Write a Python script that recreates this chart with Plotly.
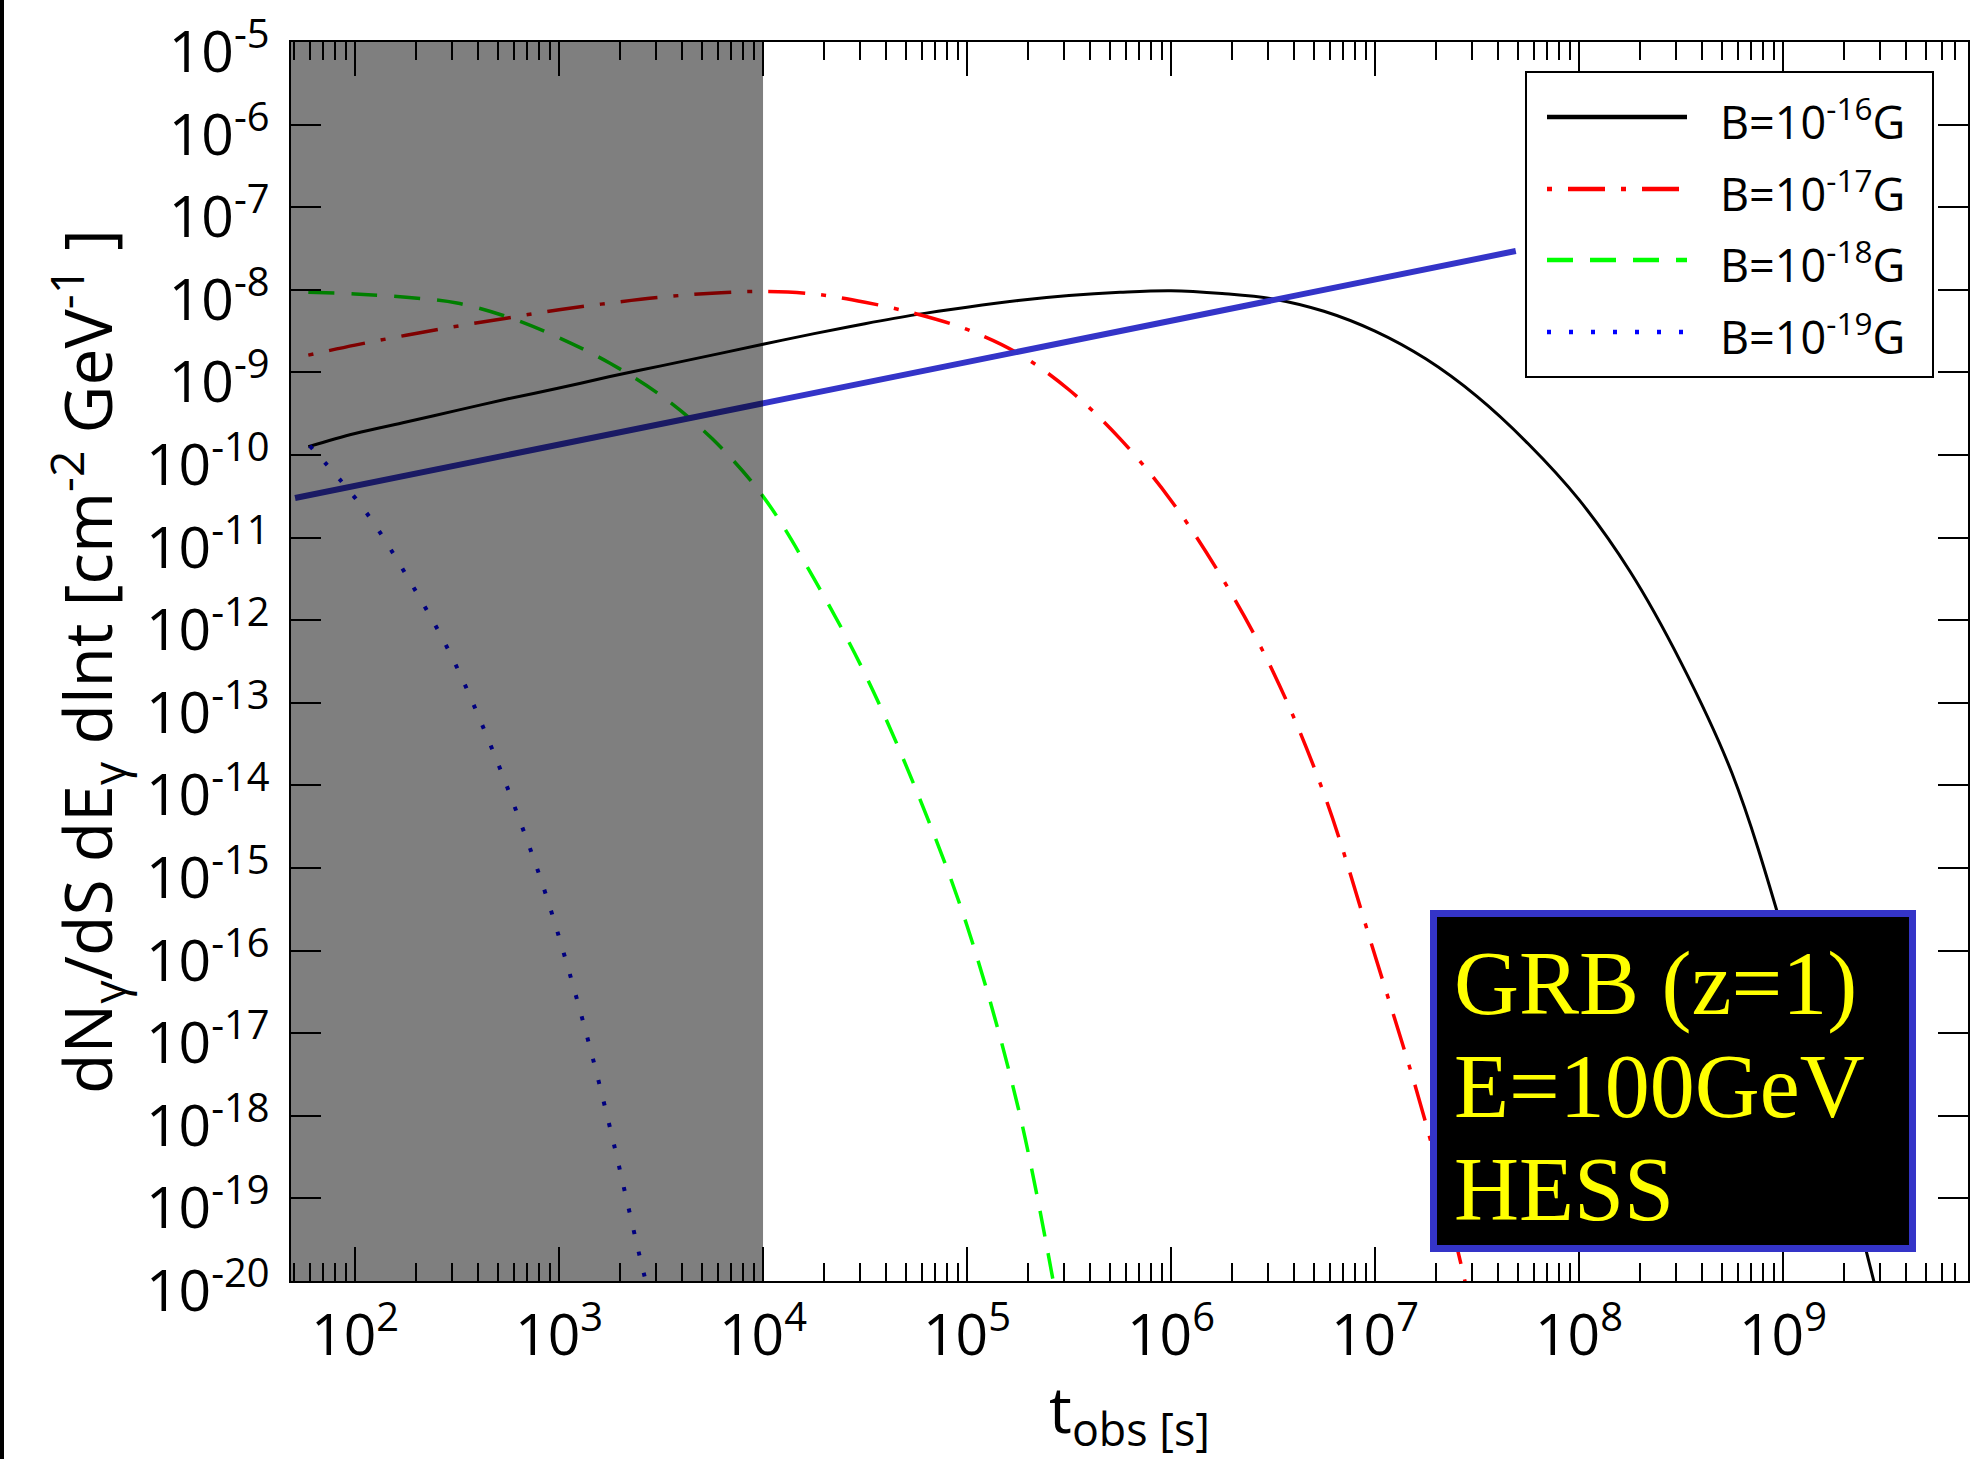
import plotly.graph_objects as go

# ---------------- data ----------------
# B = 1e-16 G  (solid black)
t_b16 = [59, 100, 178, 316, 562, 1000, 1778, 3162, 5623, 1e4, 1.78e4, 3.16e4, 5.62e4,
         1e5, 1.78e5, 3.16e5, 5.62e5, 1e6, 1.78e6, 3.16e6, 5.62e6, 1e7, 1.78e7, 3.16e7,
         5.62e7, 1e8, 1.78e8, 3.16e8, 5.62e8, 1e9, 1.78e9, 2.82e9]
f_b16 = [1.26e-10, 1.82e-10, 2.51e-10, 3.47e-10, 4.79e-10, 6.46e-10, 8.91e-10, 1.20e-9,
         1.62e-9, 2.19e-9, 2.95e-9, 3.89e-9, 5.01e-9, 6.17e-9, 7.41e-9, 8.51e-9, 9.33e-9,
         9.77e-9, 9.02e-9, 7.76e-9, 5.50e-9, 3.16e-9, 1.45e-9, 5.13e-10, 1.38e-10,
         2.88e-11, 3.89e-12, 3.09e-13, 1.41e-14, 1.70e-16, 7.94e-19, 8.91e-21]

# B = 1e-17 G  (red dash-dot)
t_b17 = [59, 100, 178, 316, 562, 1000, 1778, 3162, 5623, 1e4, 1.78e4, 3.16e4, 5.62e4,
         1e5, 1.78e5, 3.16e5, 5.62e5, 1e6, 1.78e6, 3.16e6, 5.62e6, 1e7, 1.78e7, 2.82e7]
f_b17 = [1.62e-9, 2.14e-9, 2.82e-9, 3.63e-9, 4.57e-9, 5.75e-9, 6.92e-9, 8.13e-9,
         9.12e-9, 9.55e-9, 8.91e-9, 7.08e-9, 5.13e-9, 3.31e-9, 1.70e-9, 6.17e-10,
         1.58e-10, 2.82e-11, 3.24e-12, 2.40e-13, 7.94e-15, 8.71e-17, 7.94e-19, 7.94e-21]

# B = 1e-18 G  (green dashed)
t_b18 = [59, 100, 178, 316, 562, 1000, 1778, 3162, 5623, 1e4, 1.78e4, 3.16e4,
         5.62e4, 1e5, 1.78e5, 2.69e5]
f_b18 = [9.33e-9, 8.91e-9, 8.13e-9, 6.92e-9, 4.68e-9, 2.63e-9, 1.29e-9, 5.25e-10,
         1.58e-10, 3.16e-11, 3.16e-12, 2.24e-13, 8.91e-15, 2.0e-16, 1.26e-18, 7.94e-21]

# B = 1e-19 G  (blue dotted)
t_b19 = [60, 110, 186, 295, 437, 617, 851, 1122, 1445, 1820, 2138, 2512, 2692]
f_b19 = [1.29e-10, 2.24e-11, 2.95e-12, 3.80e-13, 4.27e-14, 4.90e-15, 5.25e-16,
         5.50e-17, 5.62e-18, 5.62e-19, 1.0e-19, 1.78e-20, 8.9e-21]

# HESS sensitivity line
t_hess = [50.8, 4.9e7]
f_hess = [3.02e-11, 2.95e-8]

# excluded (shaded) time window
shade_t = [48.5, 1e4]

series_names = ["B=10<sup>-16</sup>G", "B=10<sup>-17</sup>G",
                "B=10<sup>-18</sup>G", "B=10<sup>-19</sup>G"]
x_tick_exp = [2, 3, 4, 5, 6, 7, 8, 9]
y_tick_exp = [-5, -6, -7, -8, -9, -10, -11, -12, -13, -14, -15, -16, -17, -18, -19, -20]
box_lines = ["GRB (z=1)", "E=100GeV", "HESS"]

# ---------------- styles ----------------
FONT = "Open Sans"
styles = [
    dict(color="#000000", width=3, dash="solid"),
    dict(color="#ff0000", width=3.5, dash="5px,16px,37px,16px"),
    dict(color="#00ff00", width=3.5, dash="26px,17px"),
    dict(color="#0000ff", width=4, dash="4px,18px"),
]
HESS_BLUE = "#3434c8"

fig = go.Figure()
for (tx, fy), st, nm in zip([(t_b16, f_b16), (t_b17, f_b17), (t_b18, f_b18), (t_b19, f_b19)],
                            styles, series_names):
    fig.add_trace(go.Scatter(x=tx, y=fy, mode="lines", name=nm,
                             line=dict(color=st["color"], width=st["width"],
                                       dash=st["dash"], shape="spline", smoothing=1.0,
                                       simplify=False),
                             showlegend=False, hoverinfo="skip"))
fig.add_trace(go.Scatter(x=t_hess, y=f_hess, mode="lines", name="HESS",
                         line=dict(color=HESS_BLUE, width=6), showlegend=False,
                         hoverinfo="skip"))

W, H = 1972, 1459
L, R, T, B = 291, 4, 42, 178
pw, ph = W - L - R, H - T - B


def px(x):
    return (x - L) / pw


def py(y):
    return (H - B - y) / ph


shapes = []
# shaded region (semi-transparent black above the curves)
shapes.append(dict(type="rect", xref="x", yref="paper", x0=shade_t[0], x1=shade_t[1],
                   y0=0, y1=1, fillcolor="rgba(0,0,0,0.5)", line=dict(width=0),
                   layer="above"))
# legend box
shapes.append(dict(type="rect", xref="paper", yref="paper", x0=px(1526), x1=px(1933),
                   y0=py(377), y1=py(72), fillcolor="white",
                   line=dict(color="black", width=2), layer="above"))
row_y = [117, 189, 260, 332]
for st, ry in zip(styles, row_y):
    shapes.append(dict(type="line", xref="paper", yref="paper", x0=px(1547), x1=px(1687),
                       y0=py(ry), y1=py(ry),
                       line=dict(color=st["color"], width=4.5, dash=st["dash"]),
                       layer="above"))
# text box
shapes.append(dict(type="rect", xref="paper", yref="paper", x0=px(1433.5), x1=px(1912.5),
                   y0=py(1248.5), y1=py(913.5), fillcolor="black",
                   line=dict(color=HESS_BLUE, width=7), layer="above"))
# black strip at the left border of the image
shapes.append(dict(type="rect", xref="paper", yref="paper", x0=px(0), x1=px(4),
                   y0=py(H), y1=py(0), fillcolor="black", line=dict(width=0),
                   layer="above"))

annotations = []
for nm, ry in zip(series_names, row_y):
    annotations.append(dict(xref="paper", yref="paper", x=px(1718), y=py(ry + 2),
                            xanchor="left", yanchor="middle", text=nm, showarrow=False,
                            font=dict(family=FONT, size=45, color="black")))
for txt, cy in zip(box_lines, [984, 1086, 1189]):
    annotations.append(dict(xref="paper", yref="paper", x=px(1452), y=py(cy),
                            xanchor="left", yanchor="middle", text=txt, showarrow=False,
                            font=dict(family="Liberation Serif", size=90, color="#ffff00")))

fig.update_layout(
    width=W, height=H, autosize=False,
    margin=dict(l=L, r=R, t=T, b=B, pad=0),
    paper_bgcolor="white", plot_bgcolor="white",
    shapes=shapes, annotations=annotations, showlegend=False,
    font=dict(family=FONT, color="black"),
)

fig.update_xaxes(
    type="log", range=[1.686, 9.907], automargin=False,
    tickvals=[10 ** e for e in x_tick_exp],
    ticktext=[f"10<sup>{e}</sup>" for e in x_tick_exp],
    ticks="inside", ticklen=34, tickwidth=2, tickcolor="black",
    minor=dict(ticks="inside", ticklen=18, tickwidth=1.5, tickcolor="black",
               dtick="D1", showgrid=False),
    showline=True, linewidth=2, linecolor="black", mirror="allticks",
    showgrid=False, zeroline=False,
    tickfont=dict(family=FONT, size=57, color="black"),
    ticklabelstandoff=4,
    title=dict(text="t<sub>obs [s]</sub>", font=dict(family=FONT, size=64, color="black"),
               standoff=0),
)
fig.update_yaxes(
    type="log", range=[-20.0005, -4.9995], automargin=False,
    tickvals=[10.0 ** e for e in y_tick_exp],
    ticktext=[f"10<sup>{e}</sup>" for e in y_tick_exp],
    ticks="inside", ticklen=30, tickwidth=2, tickcolor="black",
    showline=True, linewidth=2, linecolor="black", mirror="allticks",
    showgrid=False, zeroline=False,
    tickfont=dict(family=FONT, size=57, color="black"),
    ticklabelstandoff=8, ticklabelshift=10, ticklabeloverflow="allow",
    title=dict(text="dN<sub>γ</sub>/dS dE<sub>γ</sub> dlnt [cm<sup>-2</sup> GeV<sup>-1</sup> ]",
               font=dict(family=FONT, size=66, color="black"), standoff=12),
)

fig.write_html("out.html", config={"displayModeBar": False},
               post_script="document.body.style.margin='0';")
